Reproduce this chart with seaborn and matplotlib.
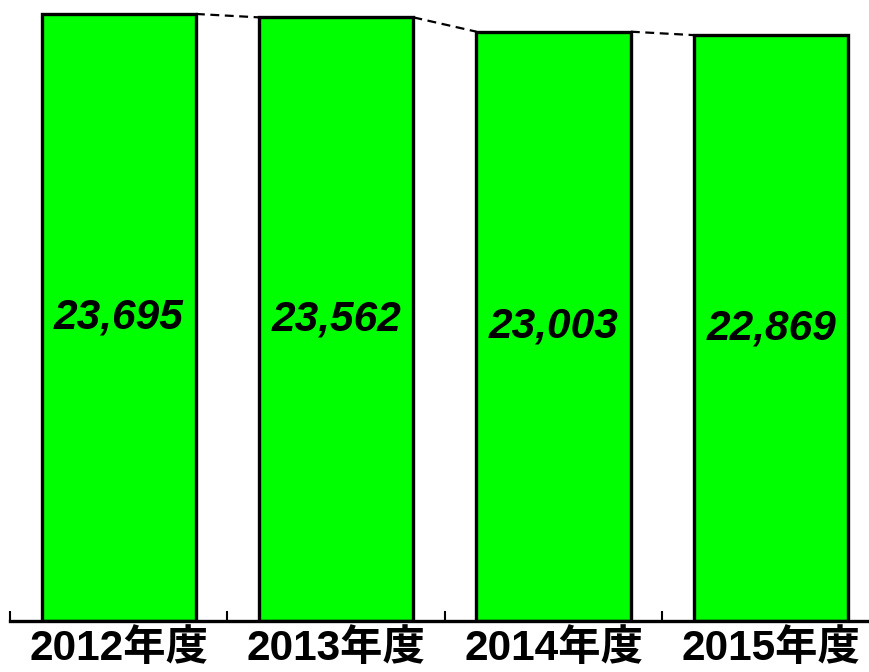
import seaborn as sns
import matplotlib.pyplot as plt
import pandas as pd

years = ["2012年度", "2013年度", "2014年度", "2015年度"]
values = [23695, 23562, 23003, 22869]
value_labels = ["23,695", "23,562", "23,003", "22,869"]

df = pd.DataFrame({"year": years, "value": values})

sns.set_style("white")
plt.rcParams["font.family"] = ["Liberation Sans", "Noto Sans CJK JP", "DejaVu Sans"]

fig = plt.figure(figsize=(8.69, 6.72), dpi=100)
ax = fig.add_axes([10 / 869, 51 / 672, 859 / 869, 621 / 672])

bar_w = 0.71
sns.barplot(data=df, x="year", y="value", color="#00FF00", width=bar_w,
            edgecolor="black", linewidth=2.4, saturation=1, ax=ax)

# dashed lines between bar tops
for i in range(len(values) - 1):
    ax.plot([i + bar_w / 2, i + 1 - bar_w / 2], [values[i], values[i + 1]],
            color="black", linestyle=(0, (4, 2.5)), linewidth=1.6, zorder=1)

# value labels in the middle of bars
for i, (v, lab) in enumerate(zip(values, value_labels)):
    ax.text(i, v / 2, lab, ha="center", va="center", fontsize=30.5,
            fontweight="bold", fontstyle="italic", color="black")

ax.set_xlim(-0.5, 3.45)
ax.set_ylim(0, 24240)
ax.set_xlabel("")
ax.set_ylabel("")
ax.set_yticks([])

for s in ["top", "right", "left"]:
    ax.spines[s].set_visible(False)
ax.spines["bottom"].set_linewidth(2.4)
ax.spines["bottom"].set_color("black")

# ticks at category boundaries
ax.set_xticks([-0.5, 0.5, 1.5, 2.5], minor=True)
ax.tick_params(axis="x", which="minor", direction="in", length=7, width=1.5,
               color="black", bottom=True)
ax.tick_params(axis="x", which="major", length=0, pad=6, labelcolor="black")
ax.set_xticks(range(len(years)))
ax.set_xticklabels(years, fontsize=30.5, fontweight="bold", color="black")

fig.savefig("out.png", dpi=100)
